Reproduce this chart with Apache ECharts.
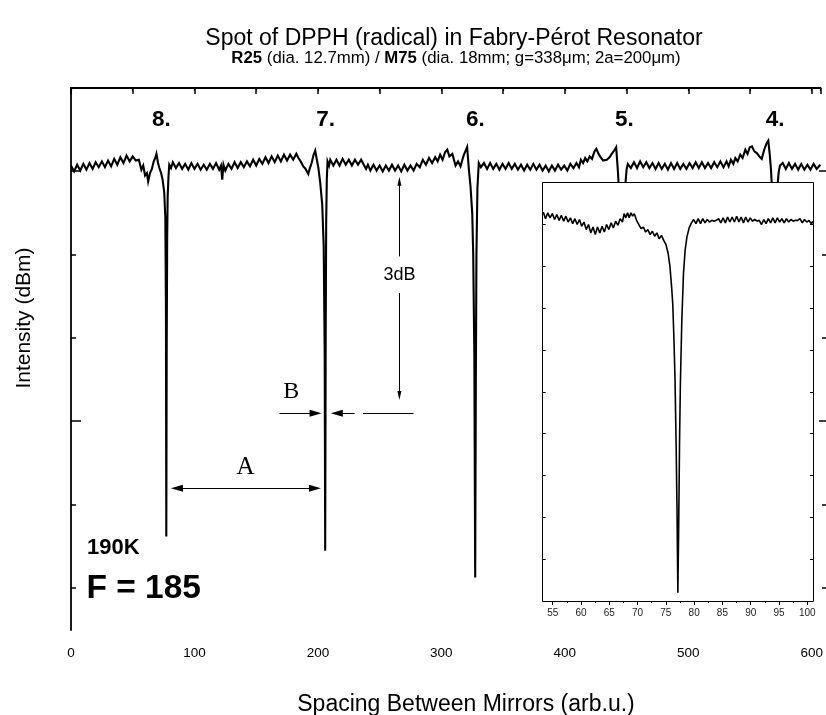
<!DOCTYPE html>
<html>
<head>
<meta charset="utf-8">
<script src="https://cdn.jsdelivr.net/npm/echarts@6/dist/echarts.min.js"></script>
<style>html,body{margin:0;padding:0;background:#fff}#c{width:826px;height:715px}</style>
</head>
<body>
<div id="c"></div>
<script>
// ---------- data ----------
// main trace: [spacing (arb.u.), intensity (dB, relative)]
const mainTrace = [
[0,-0.93],[2.5,-1.00],[5,-0.92],[7.5,-0.99],[10,-0.91],[12.5,-0.98],[15,-0.90],[17.5,-0.97],[20,-0.89],[22.5,-0.95],[25,-0.88],[27.5,-0.95],[30,-0.87],[32.5,-0.94],[35,-0.85],[37.5,-0.92],[40,-0.83],[42.5,-0.90],[45,-0.81],[47.5,-0.88],[50,-0.82],[52.5,-0.87],
[55,-0.86],[57,-0.98],[58.5,-0.93],[60,-1.05],[61.5,-1.02],[62.5,-1.12],[64,-1.02],[65.5,-0.97],[67,-0.88],[68.5,-0.83],[69.2,-0.79],[70.5,-0.90],[71.6,-0.96],[73,-1.02],[74.2,-1.10],[75.5,-1.25],[76.4,-1.55],[76.9,-2.6],[77.2,-5.38],[77.5,-3.2],[77.9,-1.8],[78.3,-1.30],[79,-1.05],[79.6,-0.92],[81,-0.96],
[82.5,-0.89],[85,-0.96],[87.5,-0.90],[90,-0.97],[92.5,-0.91],[95,-0.98],[97.5,-0.90],[100,-0.97],[102.5,-0.91],[105,-0.98],[107.5,-0.92],[110,-0.98],[112.5,-0.91],[115,-0.97],[117.5,-0.90],[120,-0.98],[121.5,-0.93],[122.5,-1.10],[123.5,-0.92],[125,-0.99],[127.5,-0.91],[130,-0.97],[132.5,-0.89],[135,-0.96],[137.5,-0.89],[140,-0.95],[142.5,-0.88],[145,-0.94],[147.5,-0.86],[150,-0.93],[152.5,-0.85],[155,-0.91],[157.5,-0.83],[160,-0.90],[162.5,-0.82],[165,-0.89],[167.5,-0.81],[170,-0.88],[172.5,-0.80],[175,-0.87],[177.5,-0.80],[180,-0.86],[182.5,-0.79],
[184.2,-0.84],[186,-0.88],[188.2,-0.94],[190,-0.97],[192.2,-1.03],[193.5,-0.96],[194.9,-0.90],[196.5,-0.80],[197.8,-0.75],[199,-0.85],[200.3,-0.95],[201.9,-1.14],[203.5,-1.40],[204.7,-1.9],[205.5,-3.2],[205.9,-5.55],[206.3,-3.0],[206.7,-1.6],[207.2,-1.1],[207.8,-0.88],[209,-0.93],
[210,-0.86],[212.5,-0.93],[215,-0.86],[217.5,-0.93],[220,-0.85],[222.5,-0.92],[225,-0.86],[227.5,-0.93],[230,-0.86],[232.5,-0.92],[235,-0.86],[237.5,-0.93],[239,-0.97],[240.5,-0.92],[242.5,-0.99],[245,-0.92],[247.5,-0.99],[250,-0.93],[252.5,-1.00],[255,-0.93],[257.5,-0.99],[260,-0.92],[262.5,-0.99],[265,-0.93],[267.5,-1.00],[270,-0.92],[272.5,-0.99],[275,-0.93],[277.5,-0.99],[280,-0.91],[282.5,-0.95],[285,-0.86],[287.5,-0.92],[290,-0.84],[292.5,-0.90],[295,-0.83],
[297,-0.88],[299,-0.80],[301,-0.86],[303,-0.77],[304.8,-0.74],[306.5,-0.82],[308.9,-0.79],[310.2,-0.86],[311.5,-0.93],[313.5,-0.88],[315.5,-0.94],[317,-0.86],[318.3,-0.80],[320.9,-0.71],[322.3,-0.98],[323.6,-1.18],[325,-1.5],[325.8,-2.0],[326.7,-3.2],[327.4,-5.87],[327.9,-3.6],[328.4,-2.0],[329.2,-1.2],[330.3,-0.90],[332,-0.95],
[334.5,-0.90],[337,-0.97],[339.5,-0.90],[342,-0.97],[344.5,-0.91],[347,-0.98],[349.5,-0.91],[352,-0.97],[354.5,-0.90],[357,-0.97],[359.5,-0.91],[362,-0.98],[364.5,-0.92],[367,-0.99],[369.5,-0.92],[372,-0.98],[374.5,-0.91],[377,-0.98],[379.5,-0.92],[382,-0.99],[384.5,-0.93],[387,-1.00],[389.5,-0.93],[392,-0.99],[394.5,-0.92],[397,-0.98],[399.5,-0.93],[402,-0.99],[404.5,-0.91],[407,-0.96],
[409.4,-0.90],[411.5,-0.95],[413,-0.86],[414.8,-0.90],[416.5,-0.84],[418.3,-0.88],[420.1,-0.82],[422,-0.85],[424,-0.76],[425.5,-0.73],[427,-0.78],[428.5,-0.82],[429.5,-0.80],[431,-0.87],[432.2,-0.89],[434,-0.86],[436.2,-0.83],[438,-0.79],[440,-0.75],[441.6,-0.71],[442.9,-0.98],[444.2,-1.3],[445.3,-2.2],[446.4,-5.1],[447.5,-2.5],[448.5,-1.4],[449.1,-1.15],[450,-0.98],[451,-0.91],
[453.5,-0.96],[456,-0.89],[458.5,-0.96],[461,-0.88],[463.5,-0.95],[466,-0.89],[468.5,-0.96],[471,-0.90],[473.5,-0.97],[476,-0.90],[478.5,-0.97],[481,-0.91],[483.5,-0.98],[486,-0.90],[488.5,-0.97],[491,-0.90],[493.5,-0.97],[496,-0.91],[498.5,-0.97],[501,-0.90],[503.5,-0.96],[506,-0.89],[508.5,-0.96],[511,-0.89],[513.5,-0.96],[516,-0.90],[518.5,-0.96],[521,-0.89],[523.5,-0.95],[526,-0.88],[528.5,-0.95],[531,-0.88],
[532.7,-0.94],[534.5,-0.86],[536.5,-0.91],[538.1,-0.84],[540,-0.88],[542.1,-0.80],[544,-0.84],[546.2,-0.74],[548,-0.79],[549.8,-0.71],[551.5,-0.70],[553.5,-0.76],[555.5,-0.78],[557.5,-0.82],[559.5,-0.85],[561.5,-0.74],[563.5,-0.66],[564.8,-0.63],[566,-0.80],[567,-0.98],[568.1,-1.3],[569,-2.2],[569.5,-4.9],[570.3,-2.4],[571.3,-1.4],[572.4,-1.15],[573.3,-1.0],[574.3,-0.93],
[576.5,-0.90],[579,-0.97],[581.5,-0.90],[584,-0.97],[586.5,-0.91],[589,-0.98],[591.5,-0.91],[594,-0.98],[596.5,-0.92],[599,-0.98],[601.5,-0.91],[604,-0.97],[607,-0.92]
];

// inset trace (8. mode): [spacing, intensity (dB)]
const insetTrace = [
[53.3,-0.85],[53.7,-0.93],[54.1,-0.86],[54.5,-0.92],[54.9,-0.87],[55.3,-0.94],[55.7,-0.88],[56.1,-0.95],[56.5,-0.89],[56.9,-0.96],[57.3,-0.90],[57.7,-0.97],[58.1,-0.92],[58.5,-0.99],[58.9,-0.93],[59.3,-1.00],[59.7,-0.94],[60.1,-1.02],[60.5,-0.97],[60.9,-1.06],[61.3,-1.00],[61.7,-1.10],[62.1,-1.03],[62.5,-1.12],[62.9,-1.03],[63.3,-1.10],[63.7,-1.02],[64.1,-1.09],[64.5,-1.00],[64.9,-1.06],[65.3,-0.98],[65.7,-1.04],[66.1,-0.96],[66.5,-1.01],[66.9,-0.93],[67.3,-0.97],[67.6,-0.87],[67.9,-0.92],[68.2,-0.86],[68.5,-0.92],[68.8,-0.86],[69.1,-0.90],[69.4,-0.87],[69.8,-0.95],[70.2,-1.00],[70.6,-1.05],[71.0,-1.03],[71.4,-1.09],[71.8,-1.06],[72.2,-1.12],[72.6,-1.08],[73.0,-1.14],[73.4,-1.10],[73.8,-1.17],[74.2,-1.13],[74.6,-1.19],[75.0,-1.24],[75.4,-1.35],[75.7,-1.50],[76.0,-1.75],[76.2,-1.95],[76.4,-2.35],[76.6,-2.85],[76.8,-3.65],[76.95,-4.4],[77.1,-5.40],[77.25,-4.6],[77.4,-3.6],[77.55,-2.9],[77.8,-2.15],[78.1,-1.58],[78.4,-1.30],[78.7,-1.15],[79.1,-1.04],[79.5,-0.98],[79.9,-0.94],[80.3,-0.99],[80.7,-0.93],[81.1,-0.99],[81.5,-0.93],[81.9,-0.98],[82.3,-0.94],[82.7,-0.97],[83.1,-0.95],[83.5,-0.96],[83.9,-0.95],[84.3,-0.93],[84.7,-0.98],[85.1,-0.92],[85.5,-0.98],[85.9,-0.91],[86.3,-0.97],[86.7,-0.91],[87.1,-0.97],[87.5,-0.90],[87.9,-0.97],[88.3,-0.91],[88.7,-0.98],[89.1,-0.91],[89.5,-0.97],[89.9,-0.92],[90.3,-0.96],[90.7,-0.94],[91.1,-0.96],[91.5,-0.95],[91.9,-1.00],[92.3,-0.94],[92.7,-0.99],[93.1,-0.93],[93.5,-0.98],[93.9,-0.92],[94.3,-0.98],[94.7,-0.92],[95.1,-0.97],[95.5,-0.93],[95.9,-0.98],[96.3,-0.93],[96.7,-0.97],[97.1,-0.94],[97.5,-0.96],[97.9,-0.95],[98.3,-0.95],[98.7,-0.93],[99.1,-0.98],[99.5,-0.94],[99.9,-0.97],[100.3,-0.95],[100.7,-0.99],[101,-0.96]
];

// mode labels and their x positions
const modeNames = ['8.', '7.', '6.', '5.', '4.'];
const modeLabelX = [73.3, 206.3, 327.6, 448.2, 570.3];

// annotation arrows: [x1, y1, x2, y2, heads]
const arrowLines = [
  [168.9, -3.90, 198.1, -3.90, 'end'],
  [229.8, -3.90, 215.3, -3.90, 'end'],
  [236.5, -3.90, 277.5, -3.90, 'none'],
  [85.8, -4.80, 197.6, -4.80, 'both']
];
const dbArrows = [
  [266, -2.02, 266, -1.118],
  [266, -2.46, 266, -3.687]
];

// axis ranges / tick values
const mainX = {min: 0, max: 607, step: 50, labelStep: 100};
const mainY = {min: -6.5, max: 0};
const insetXData = {min: 53.2, max: 101};
const insetXTicks = {min: 55, max: 100, step: 5};
const insetY = {min: -5.5, max: -0.5, step: 0.5};

const titleText = 'Spot of DPPH (radical) in Fabry-Pérot Resonator';
const subtitleText = '{b|R25} (dia. 12.7mm) / {b|M75} (dia. 18mm; g=338μm; 2a=200μm)';
const xTitle = 'Spacing Between Mirrors (arb.u.)';
const yTitle = 'Intensity (dBm)';

// ---------- chart ----------
const FONT = 'Liberation Sans, Arial, Helvetica, sans-serif';
const SERIF = 'Liberation Serif, Times New Roman, serif';
const BLACK = '#000';

function hiddenAxis(gridIndex) {
  return {type: 'value', gridIndex: gridIndex, show: false, min: 0, max: 1};
}
function tickAxis(gridIndex, pos, min, max, interval, len) {
  return {
    type: 'value', gridIndex: gridIndex, position: pos, min: min, max: max, interval: interval,
    axisLine: {show: false}, splitLine: {show: false}, axisLabel: {show: false},
    axisTick: {show: true, inside: true, length: len, lineStyle: {color: BLACK, width: 1.5}}
  };
}

const markLineData = [];
arrowLines.forEach(function (a) {
  const big = [7, 12];
  markLineData.push([
    {coord: [a[0], a[1]], symbol: a[4] === 'both' ? 'triangle' : 'none', symbolSize: big},
    {coord: [a[2], a[3]], symbol: a[4] === 'none' ? 'none' : 'triangle', symbolSize: big}
  ]);
});
dbArrows.forEach(function (a) {
  markLineData.push([
    {coord: [a[0], a[1]], symbol: 'none', symbolSize: [4, 9]},
    {coord: [a[2], a[3]], symbol: 'triangle', symbolSize: [4, 9]}
  ]);
});

function textPoint(coord, text, label) {
  return {
    coord: coord, name: text, symbol: 'circle', symbolSize: 1,
    itemStyle: {color: 'rgba(0,0,0,0)'},
    label: Object.assign({show: true, formatter: text, color: BLACK, fontFamily: FONT}, label)
  };
}

const markPointData = [];
modeNames.forEach(function (n, i) {
  markPointData.push(textPoint([modeLabelX[i], -0.384], n, {fontSize: 22.5, fontWeight: 'bold', position: 'inside'}));
});
markPointData.push(textPoint([12.6, -5.51], '190K', {fontSize: 22, fontWeight: 'bold', position: 'right', distance: 0}));
markPointData.push(textPoint([12.1, -6.01], 'F = 185', {fontSize: 33.5, fontWeight: 'bold', position: 'right', distance: 0}));
markPointData.push(textPoint([266, -2.24], '3dB', {fontSize: 18, position: 'inside'}));
markPointData.push(textPoint([178.4, -3.64], 'B', {fontSize: 24, fontFamily: SERIF, position: 'inside'}));
markPointData.push(textPoint([141.4, -4.55], 'A', {fontSize: 25, fontFamily: SERIF, position: 'inside'}));

const option = {
  animation: false,
  backgroundColor: '#fff',
  textStyle: {fontFamily: FONT, color: BLACK},
  title: [
    {text: titleText, left: 454, top: 27, textAlign: 'center', padding: 0,
     textStyle: {fontSize: 23, fontWeight: 'normal', color: BLACK, fontFamily: FONT}},
    {text: subtitleText, left: 456, top: 50, textAlign: 'center', padding: 0,
     textStyle: {fontSize: 16.8, fontWeight: 'normal', color: BLACK, fontFamily: FONT,
       rich: {b: {fontSize: 16.8, fontWeight: 'bold', color: BLACK, fontFamily: FONT}}}}
  ],
  graphic: [
    {type: 'text', x: 466, y: 705, style: {text: xTitle, font: '23px ' + FONT, fill: BLACK, align: 'center', verticalAlign: 'middle'}},
    {type: 'text', x: 24, y: 318, rotation: Math.PI / 2, style: {text: yTitle, font: '21px ' + FONT, fill: BLACK, align: 'center', verticalAlign: 'middle'}}
  ],
  grid: [
    {left: 71, right: 0, top: 88, bottom: 85},              // main
    {left: 71, right: 0, top: 171, bottom: 127},            // short y ticks
    {left: 71, right: 0, top: 171, bottom: 294},            // long y ticks
    {left: 542.7, right: 13, top: 182.7, bottom: 114, show: true, backgroundColor: '#fff', borderWidth: 0, z: 10}, // inset
    {left: 552.7, right: 18.7, top: 182.7, bottom: 114, z: 10} // inset x ticks
  ],
  xAxis: [
    {type: 'value', gridIndex: 0, position: 'bottom', min: mainX.min, max: mainX.max, interval: mainX.step,
     axisLine: {show: true, lineStyle: {color: BLACK, width: 1.8}},
     axisTick: {show: true, inside: false, length: 6, lineStyle: {color: BLACK, width: 1.5}},
     axisLabel: {show: true, fontSize: 13.5, color: BLACK, margin: 16, fontFamily: FONT,
       formatter: function (v) { return (Math.round(v) % mainX.labelStep === 0 && Math.abs(v - Math.round(v)) < 1e-6) ? String(Math.round(v)) : ''; }},
     splitLine: {show: false}},
    {type: 'value', gridIndex: 0, position: 'top', min: mainX.min, max: mainX.max, interval: mainX.step,
     axisLine: {show: true, lineStyle: {color: BLACK, width: 1.8}},
     axisTick: {show: true, inside: true, length: 3, lineStyle: {color: BLACK, width: 1.2}},
     axisLabel: {show: false}, splitLine: {show: false}},
    hiddenAxis(1),
    hiddenAxis(2),
    {type: 'value', gridIndex: 3, position: 'bottom', min: insetXData.min, max: insetXData.max, z: 11,
     axisLine: {show: true, lineStyle: {color: BLACK, width: 1}},
     axisTick: {show: false}, axisLabel: {show: false}, splitLine: {show: false}},
    {type: 'value', gridIndex: 3, position: 'top', min: insetXData.min, max: insetXData.max, z: 11,
     axisLine: {show: true, lineStyle: {color: BLACK, width: 1}},
     axisTick: {show: false}, axisLabel: {show: false}, splitLine: {show: false}},
    {type: 'value', gridIndex: 4, position: 'bottom', min: insetXTicks.min, max: insetXTicks.max, interval: insetXTicks.step, z: 11,
     axisLine: {show: false},
     axisTick: {show: true, inside: false, length: 4, lineStyle: {color: BLACK, width: 1}},
     minorTick: {show: true, splitNumber: 2, length: 2, lineStyle: {color: BLACK, width: 1}},
     axisLabel: {show: true, fontSize: 10, color: '#222', margin: 7, fontFamily: FONT},
     splitLine: {show: false}, minorSplitLine: {show: false}}
  ],
  yAxis: [
    {type: 'value', gridIndex: 0, position: 'left', min: mainY.min, max: mainY.max,
     axisLine: {show: true, lineStyle: {color: BLACK, width: 1.8}},
     axisTick: {show: false}, axisLabel: {show: false}, splitLine: {show: false}},
    tickAxis(1, 'left', 0, 5, 1, 5),
    tickAxis(1, 'right', 0, 5, 1, 4),
    tickAxis(2, 'left', 0, 3, 3, 10),
    tickAxis(2, 'right', 0, 3, 3, 7),
    {type: 'value', gridIndex: 3, position: 'left', min: insetY.min, max: insetY.max, interval: insetY.step, z: 11,
     axisLine: {show: true, lineStyle: {color: BLACK, width: 1}},
     axisTick: {show: true, inside: true, length: 3, lineStyle: {color: BLACK, width: 1}},
     axisLabel: {show: false}, splitLine: {show: false}},
    {type: 'value', gridIndex: 3, position: 'right', min: insetY.min, max: insetY.max, interval: insetY.step, z: 11,
     axisLine: {show: true, lineStyle: {color: BLACK, width: 1}},
     axisTick: {show: true, inside: true, length: 3, lineStyle: {color: BLACK, width: 1}},
     axisLabel: {show: false}, splitLine: {show: false}},
    hiddenAxis(4)
  ],
  series: [
    {type: 'line', name: 'main', xAxisIndex: 0, yAxisIndex: 0, data: mainTrace,
     symbol: 'none', silent: true, z: 2,
     lineStyle: {color: BLACK, width: 2.1, join: 'miter'}, emphasis: {disabled: true},
     markLine: {silent: true, animation: false, symbol: ['none', 'none'],
       label: {show: false}, lineStyle: {color: BLACK, width: 1, type: 'solid'},
       emphasis: {disabled: true}, data: markLineData},
     markPoint: {silent: true, animation: false, data: markPointData}
    },
    {type: 'line', name: 'inset', xAxisIndex: 4, yAxisIndex: 5, data: insetTrace,
     symbol: 'none', silent: true, z: 12,
     lineStyle: {color: BLACK, width: 1.6}, emphasis: {disabled: true},
     markPoint: {silent: true, animation: false, data: [
       textPoint([90.16, -5.06], '8. mode\n283.2 GHz', {fontSize: 16.5, fontWeight: 'bold', lineHeight: 21, position: 'inside', align: 'center'})
     ]}
    }
  ]
};

const chart = echarts.init(document.getElementById('c'), null, {renderer: 'canvas'});
chart.setOption(option);
</script>
</body>
</html>
